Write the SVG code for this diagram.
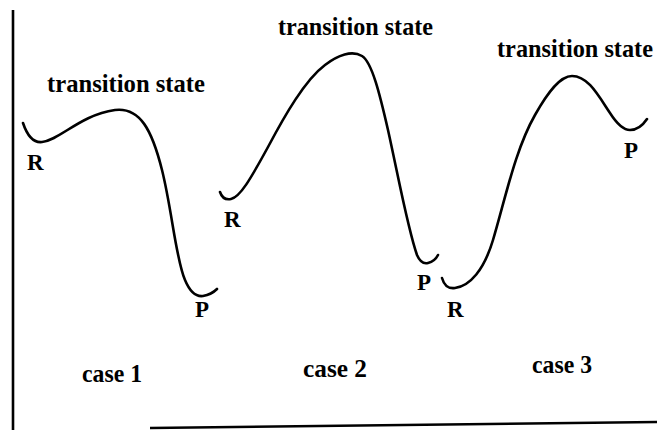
<svg xmlns="http://www.w3.org/2000/svg" width="657" height="430" viewBox="0 0 657 430">
<style>
.curve{fill:none;stroke:#000;stroke-width:2.6;stroke-linecap:round;stroke-linejoin:round}
.axis{fill:none;stroke:#000;stroke-width:2.6}
.ts{font-family:"Liberation Serif","Times New Roman",serif;font-weight:bold;font-size:25px;fill:#000}
.lbl{font-family:"Liberation Serif","Times New Roman",serif;font-weight:bold;font-size:23px;fill:#000}
.case{font-family:"Liberation Serif","Times New Roman",serif;font-weight:bold;font-size:25px;fill:#000}
</style>
<rect width="657" height="430" fill="#fff"/>
<g id="axes">
<line class="axis" x1="13" y1="10" x2="13" y2="430"/>
<line class="axis" x1="150" y1="428" x2="657" y2="422"/>
</g>
<g id="case1">
<path class="curve" d="M23,123 C27,135 33,143 42,142 C60,140 80,115 115,110 C140,107 152,130 162,170 C172,210 176,260 185,280 C190,292 196,297 203,296 C209,295 214,292 217,289"/>
<text class="ts" x="47" y="92" textLength="158" lengthAdjust="spacingAndGlyphs">transition state</text>
<text class="lbl" x="27" y="170">R</text>
<text class="lbl" x="195" y="317">P</text>
<text class="case" x="82" y="382" textLength="60" lengthAdjust="spacingAndGlyphs">case 1</text>
</g>
<g id="case2">
<path class="curve" d="M220,192 C222,198 226,200 231,199 C240,197 250,180 268,147 C285,115 305,80 325,65 C338,55 352,50 362,56 C372,62 380,95 388,130 C398,175 408,230 417,255 C420,262 424,264 428,263 C432,262 436,259 438,255"/>
<text class="ts" x="278" y="35" textLength="155" lengthAdjust="spacingAndGlyphs">transition state</text>
<text class="lbl" x="224" y="227">R</text>
<text class="lbl" x="417" y="290">P</text>
<text class="case" x="303" y="377" textLength="64" lengthAdjust="spacingAndGlyphs">case 2</text>
</g>
<g id="case3">
<path class="curve" d="M442,278 C444,285 448,289 455,288 C470,286 484,270 493,240 C505,200 515,150 535,115 C548,92 560,76 572,76 C588,76 598,95 610,113 C617,124 623,130 630,130 C637,130 643,125 647,119"/>
<text class="ts" x="497" y="57" textLength="156" lengthAdjust="spacingAndGlyphs">transition state</text>
<text class="lbl" x="447" y="317">R</text>
<text class="lbl" x="624" y="158">P</text>
<text class="case" x="532" y="373" textLength="60" lengthAdjust="spacingAndGlyphs">case 3</text>
</g>
</svg>
